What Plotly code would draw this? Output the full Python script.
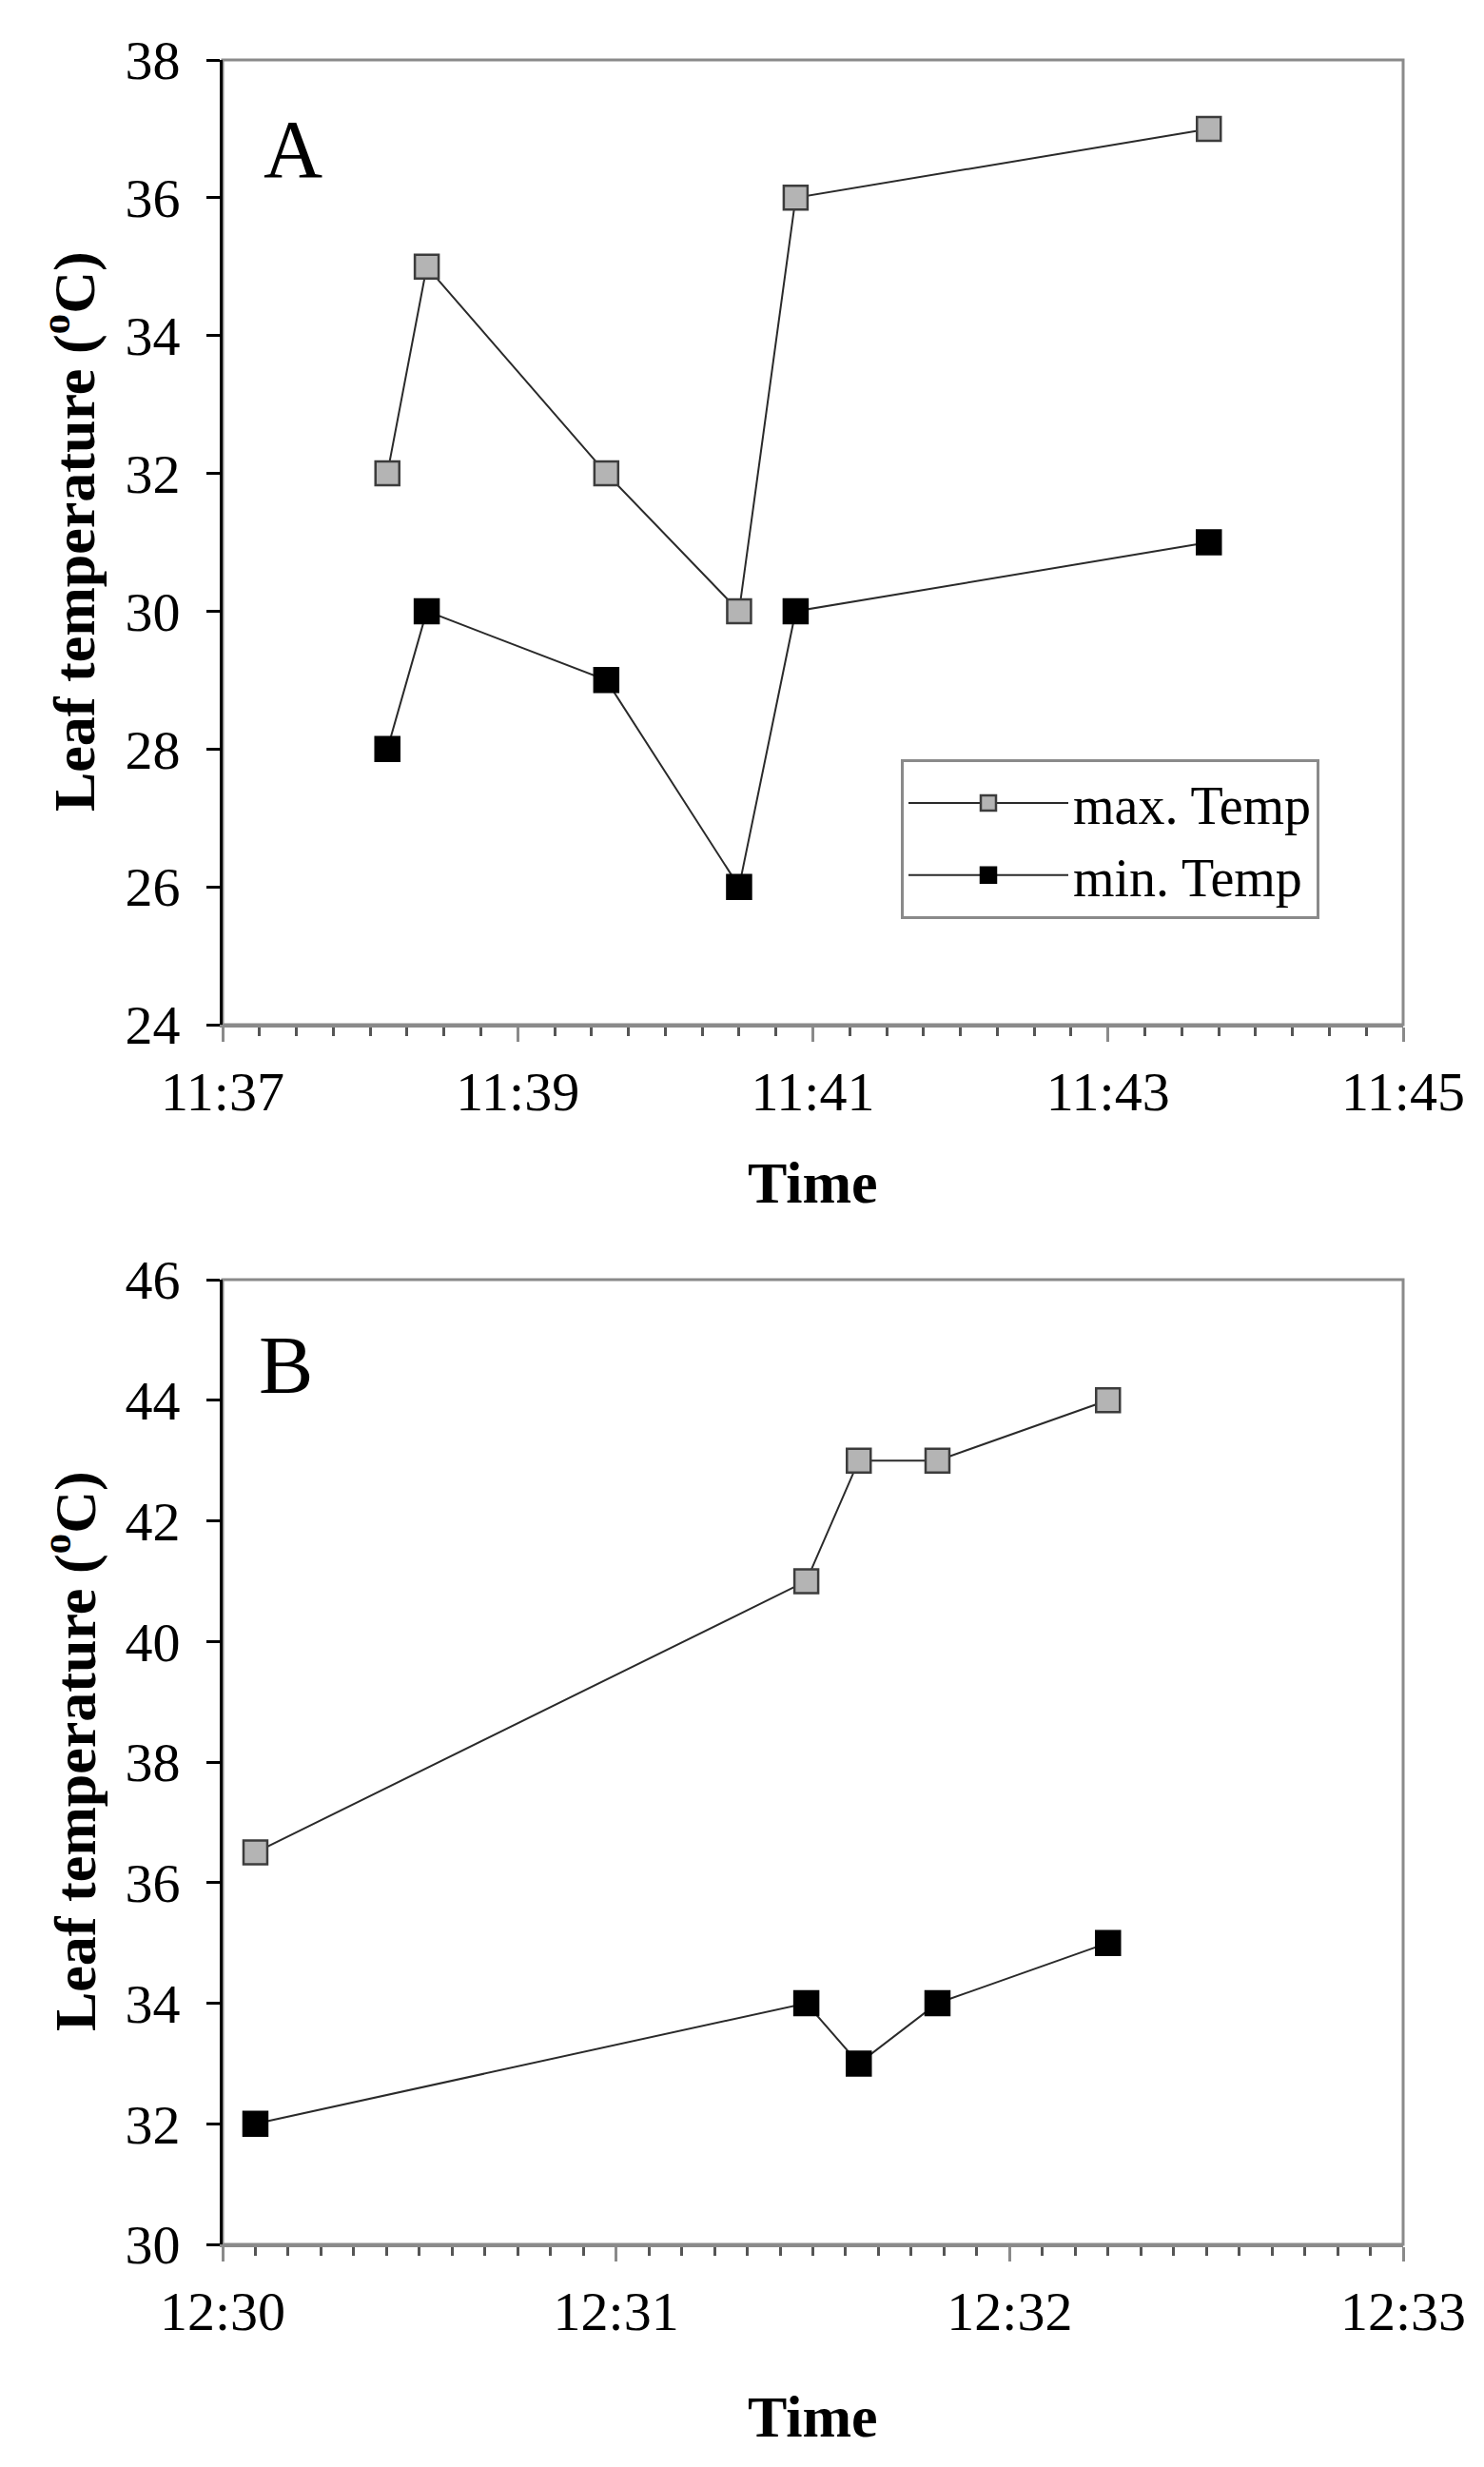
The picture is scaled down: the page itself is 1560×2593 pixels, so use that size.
import plotly.graph_objects as go
from plotly.subplots import make_subplots

# panel A: times and leaf temperatures
time_a = ["2000-01-01 11:38:07", "2000-01-01 11:38:23", "2000-01-01 11:39:36",
          "2000-01-01 11:40:30", "2000-01-01 11:40:53", "2000-01-01 11:43:41"]
max_a = [32, 35, 32, 30, 36, 37]
min_a = [28, 30, 29, 26, 30, 31]

# panel B
time_b = ["2000-01-01 12:30:05", "2000-01-01 12:31:29", "2000-01-01 12:31:37",
          "2000-01-01 12:31:49", "2000-01-01 12:32:15"]
max_b = [36.5, 41, 43, 43, 44]
min_b = [32, 34, 33, 34, 35]

W, H = 1560, 2593
OFF = 8  # page body margin
FONT = "Liberation Serif"
GREY_FILL = "#b4b4b4"
LINE = "#2a2a2a"
FRAME = "#8a8a8a"


def px(x):
    return (x - OFF) / W


def py(y):
    return 1 - (y - OFF) / H


fig = make_subplots(rows=2, cols=1)


def add_pair(t, vmax, vmin, row, legend):
    fig.add_trace(go.Scatter(
        x=t, y=vmax, mode="lines+markers", name="max. Temp", showlegend=legend,
        line=dict(color=LINE, width=2),
        marker=dict(symbol="square", size=25, color=GREY_FILL,
                    line=dict(color="#3c3c3c", width=2.5))), row=row, col=1)
    fig.add_trace(go.Scatter(
        x=t, y=vmin, mode="lines+markers", name="min. Temp", showlegend=legend,
        line=dict(color=LINE, width=2),
        marker=dict(symbol="square", size=25, color="black",
                    line=dict(color="black", width=2.5))), row=row, col=1)


add_pair(time_a, max_a, min_a, 1, True)
add_pair(time_b, max_b, min_b, 2, False)

xdom = [px(234), px(1475)]
tick_font = dict(family=FONT, size=58, color="black")

xcommon = dict(type="date", tickformat="%H:%M", domain=xdom, showgrid=False,
               zeroline=False, showline=True, linecolor=FRAME, linewidth=3,
               ticks="outside", ticklen=15, tickwidth=3, tickcolor=FRAME,
               tickfont=tick_font, ticklabelstandoff=2, automargin=False)
ycommon = dict(showgrid=False, zeroline=False, showline=True, linecolor="black",
               linewidth=3, ticks="outside", ticklen=14, tickwidth=3,
               tickcolor="black", tickfont=tick_font, dtick=2,
               ticklabelstandoff=16, automargin=False)

fig.update_xaxes(**xcommon, row=1, col=1,
                 range=["2000-01-01 11:37:00", "2000-01-01 11:45:00"],
                 tick0="2000-01-01 11:37:00", dtick=120000,
                 minor=dict(dtick=15000, ticks="outside", ticklen=9,
                            tickwidth=3, tickcolor="#555555"))
fig.update_xaxes(**xcommon, row=2, col=1,
                 range=["2000-01-01 12:30:00", "2000-01-01 12:33:00"],
                 tick0="2000-01-01 12:30:00", dtick=60000,
                 minor=dict(dtick=5000, ticks="outside", ticklen=9,
                            tickwidth=3, tickcolor="#555555"))
fig.update_yaxes(**ycommon, row=1, col=1, range=[24, 38], domain=[py(1077), py(63)])
fig.update_yaxes(**ycommon, row=2, col=1, range=[30, 46], domain=[py(2359), py(1345)])

# grey frame on top and right of each panel
for xr, yr in [("x", "y"), ("x2", "y2")]:
    fig.add_shape(type="rect", xref=xr + " domain", yref=yr + " domain",
                  x0=0, x1=1, y0=0, y1=1, layer="below",
                  line=dict(color=FRAME, width=3))

for txt, xr, yr, x, y in [("A", "x domain", "y domain", 0.033, 0.907),
                          ("B", "x2 domain", "y2 domain", 0.029, 0.911)]:
    fig.add_annotation(text=txt, xref=xr, yref=yr, x=x, y=y, xanchor="left",
                       yanchor="middle", showarrow=False,
                       font=dict(family=FONT, size=86, color="black"))

title_font = dict(family=FONT, size=62, color="black")
for yc, tc in [(559, 1243), (1841, 2540)]:
    fig.add_annotation(text="<b>Leaf temperature (<sup>o</sup>C)</b>",
                       xref="paper", yref="paper", x=px(74), y=py(yc),
                       xanchor="center", yanchor="middle", textangle=-90,
                       showarrow=False, font=title_font)
    fig.add_annotation(text="<b>Time</b>", xref="paper", yref="paper",
                       x=px(855), y=py(tc), xanchor="center", yanchor="middle",
                       showarrow=False, font=title_font)

fig.update_layout(
    width=W, height=H,
    margin=dict(l=0, r=0, t=0, b=0),
    paper_bgcolor="white", plot_bgcolor="white",
    legend=dict(x=px(947), y=py(798), xanchor="left", yanchor="top",
                bordercolor=FRAME, borderwidth=3, bgcolor="white",
                font=dict(family=FONT, size=56, color="black"),
                itemwidth=168, tracegroupgap=0),
)

fig.write_html("out.html")
